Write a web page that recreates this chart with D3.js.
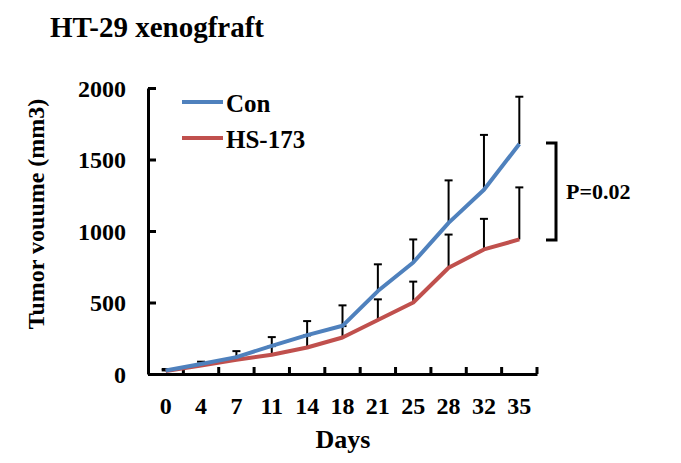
<!DOCTYPE html>
<html><head><meta charset="utf-8">
<script src="https://cdn.jsdelivr.net/npm/d3@7"></script>
<style>
body{margin:0;background:#fff;}
text{font-family:"Liberation Serif","Times New Roman",serif;font-weight:bold;fill:#000;}
</style></head>
<body><svg id="c" width="681" height="463"></svg>
<script>
const days = ["0","4","7","11","14","18","21","25","28","32","35"];
const conMean = [25,70,118,197,272,337,580,780,1057,1289,1608];
const conErr  = [10,16,42,61,98,143,187,161,297,383,331];
const hsMean  = [20,60,100,135,185,255,378,500,743,871,941];
const hsErr   = [5,10,15,60,85,80,144,146,232,214,364];
const yTicks  = [0,500,1000,1500,2000];
const seriesNames = ["Con","HS-173"];
const colors = ["#4F81BD","#C0504D"];
const title = "HT-29 xenogfraft";
const pText = "P=0.02";

const svg = d3.select("#c");
const x = d3.scaleBand().domain(days).range([148,537]).padding(0);
const y = d3.scaleLinear().domain([0,2000]).range([374,88]);

svg.append("text").attr("x",50).attr("y",37).style("font-size","29px").text(title);

// y axis
const ya = svg.append("g").attr("transform","translate(148,0)")
  .call(d3.axisLeft(y).tickValues(yTicks).tickSizeInner(-8).tickSizeOuter(0).tickPadding(22).tickFormat(d3.format("d")));
ya.select(".domain").attr("stroke","#000").attr("stroke-width",3);
ya.selectAll(".tick line").attr("stroke","#000").attr("stroke-width",3);
ya.selectAll(".tick text").style("font-size","24px").attr("font-family",null).attr("dy","0.34em");

// x axis
const xa = svg.append("g").attr("transform","translate(0,374)")
  .call(d3.axisBottom(x).tickSize(0).tickPadding(23));
xa.select(".domain").attr("stroke","#000").attr("stroke-width",3);
xa.selectAll(".tick text").style("font-size","24px").attr("font-family",null);
xa.selectAll(".btick").data(days).enter().append("line")
  .attr("x1",d=>x(d)+x.bandwidth()).attr("x2",d=>x(d)+x.bandwidth())
  .attr("y1",0).attr("y2",-7).attr("stroke","#000").attr("stroke-width",3);

svg.append("text").attr("x",343).attr("y",448).attr("text-anchor","middle").style("font-size","26px").text("Days");
svg.append("text").attr("transform","translate(44,214) rotate(-90)").attr("text-anchor","middle").style("font-size","24px").text("Tumor vouume (mm3)");

const series = [
  {name:seriesNames[0], mean:conMean, err:conErr, color:colors[0]},
  {name:seriesNames[1], mean:hsMean, err:hsErr, color:colors[1]}
];
const cx = d => x(d)+x.bandwidth()/2;

// error bars
series.forEach(s=>{
  const g = svg.append("g").attr("stroke","#000").attr("stroke-width",2);
  days.forEach((d,i)=>{
    const top = y(s.mean[i]+s.err[i]);
    g.append("line").attr("x1",cx(d)).attr("x2",cx(d)).attr("y1",y(s.mean[i])).attr("y2",top);
    g.append("line").attr("x1",cx(d)-4).attr("x2",cx(d)+4).attr("y1",top).attr("y2",top);
  });
});

const line = d3.line().x((v,i)=>cx(days[i])).y(v=>y(v));
[series[1],series[0]].forEach(s=>{
  svg.append("path").attr("d",line(s.mean)).attr("fill","none")
    .attr("stroke",s.color).attr("stroke-width",4).attr("stroke-linejoin","round");
});

// legend
series.forEach((s,i)=>{
  const ly = [102,138][i];
  svg.append("line").attr("x1",182).attr("x2",223).attr("y1",ly).attr("y2",ly)
    .attr("stroke",s.color).attr("stroke-width",4);
  svg.append("text").attr("x",226).attr("y",ly+10).style("font-size","25px").text(s.name);
});

// significance bracket
svg.append("path").attr("d","M546,143H556V240H546").attr("fill","none").attr("stroke","#000").attr("stroke-width",3);
svg.append("text").attr("x",566).attr("y",199).style("font-size","22px").text(pText);
</script></body></html>
